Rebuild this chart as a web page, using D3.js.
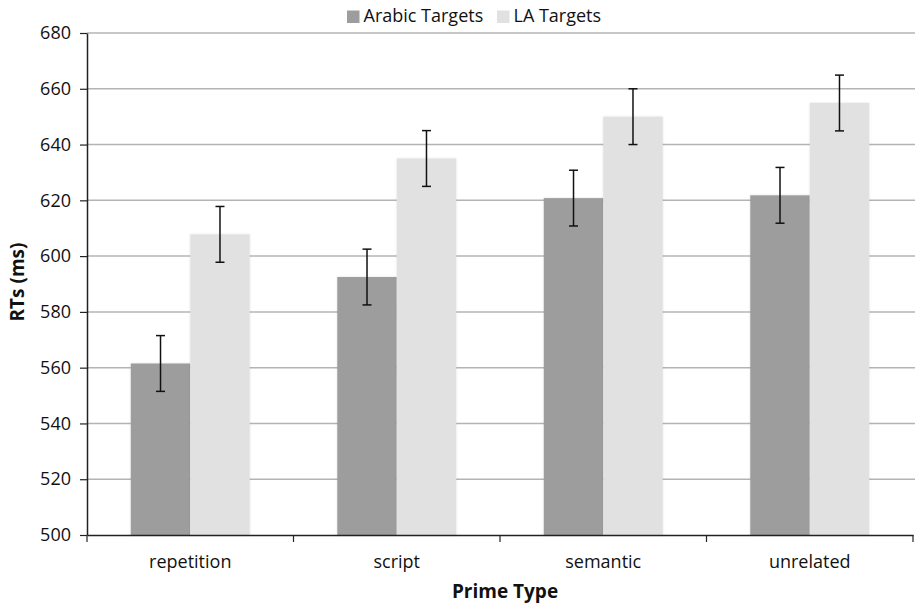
<!DOCTYPE html>
<html>
<head>
<meta charset="utf-8">
<script src="https://cdn.jsdelivr.net/npm/d3@7"></script>
<style>
  html, body { margin: 0; padding: 0; background: #fff; }
  svg { display: block; font-family: "Open Sans", sans-serif; }
</style>
</head>
<body>
<svg id="chart" width="915" height="604"></svg>
<script>
const categories = ["repetition", "script", "semantic", "unrelated"];
const seriesNames = ["Arabic Targets", "LA Targets"];
const arabicValues = [561.5, 592.5, 620.8, 621.8];
const laValues = [607.8, 635, 650, 654.9];
const arabicErrors = [10, 10, 10, 10];
const laErrors = [10, 10, 10, 10];
const yTicks = [500, 520, 540, 560, 580, 600, 620, 640, 660, 680];
const colors = ["#9d9d9d", "#e1e1e1"];

(function () {
const svg = d3.select("#chart");
const mLeft = 87, mRight = 913, mTop = 33, mBottom = 535;

const x = d3.scaleBand().domain(categories).range([mLeft, mRight]).paddingInner(0).paddingOuter(0);
const y = d3.scaleLinear().domain([500, 680]).range([mBottom, mTop]);
const barW = x.bandwidth() * 0.288;

// defs: soft glow around bars
const defs = svg.append("defs");
const f = defs.append("filter").attr("id", "soft").attr("x", "-10%").attr("y", "-10%").attr("width", "120%").attr("height", "120%");
f.append("feGaussianBlur").attr("in", "SourceAlpha").attr("stdDeviation", 1.2).attr("result", "b");
f.append("feFlood").attr("flood-color", "#000").attr("flood-opacity", 0.12);
f.append("feComposite").attr("in2", "b").attr("operator", "in").attr("result", "s");
const fm = f.append("feMerge");
fm.append("feMergeNode").attr("in", "s");
fm.append("feMergeNode").attr("in", "SourceGraphic");

// gridlines
svg.append("g").selectAll("line").data(yTicks.filter(d => d !== 500)).join("line")
  .attr("x1", mLeft).attr("x2", 915)
  .attr("y1", d => y(d)).attr("y2", d => y(d))
  .attr("stroke", "#b4b4b4").attr("stroke-width", 1.5);

// bars
const data = [];
categories.forEach((c, i) => {
  data.push({cat: c, s: 0, v: arabicValues[i], e: arabicErrors[i]});
  data.push({cat: c, s: 1, v: laValues[i], e: laErrors[i]});
});
const cx = d => x(d.cat) + x.bandwidth() / 2 + (d.s === 0 ? -barW : 0);

svg.append("g").selectAll("rect").data(data).join("rect")
  .attr("x", d => cx(d))
  .attr("y", d => y(d.v))
  .attr("width", barW)
  .attr("height", d => mBottom - y(d.v))
  .attr("fill", d => colors[d.s])
  .attr("filter", "url(#soft)");

// error bars
const eg = svg.append("g").attr("stroke", "#111").attr("stroke-width", 1.5);
data.forEach(d => {
  const mx = cx(d) + barW / 2;
  eg.append("line").attr("x1", mx).attr("x2", mx).attr("y1", y(d.v + d.e)).attr("y2", y(d.v - d.e));
  eg.append("line").attr("x1", mx - 4.5).attr("x2", mx + 4.5).attr("y1", y(d.v + d.e)).attr("y2", y(d.v + d.e));
  eg.append("line").attr("x1", mx - 4.5).attr("x2", mx + 4.5).attr("y1", y(d.v - d.e)).attr("y2", y(d.v - d.e));
});

// y axis
const yAxis = svg.append("g").attr("transform", `translate(${mLeft},0)`)
  .call(d3.axisLeft(y).tickValues(yTicks).tickSize(7).tickPadding(9).tickSizeOuter(0));
yAxis.select(".domain").attr("stroke", "#222").attr("stroke-width", 1.5);
yAxis.selectAll(".tick line").attr("stroke", "#222").attr("stroke-width", 1.2);
yAxis.selectAll("text").attr("font-size", 18).attr("fill", "#111").attr("font-family", "Open Sans, sans-serif");

// x axis
const xAxis = svg.append("g").attr("transform", `translate(0,${mBottom})`)
  .call(d3.axisBottom(x).tickSize(0).tickPadding(20).tickSizeOuter(0));
xAxis.select(".domain").attr("stroke", "#222").attr("stroke-width", 1.5);
xAxis.selectAll("text").attr("font-size", 18).attr("fill", "#111").attr("font-family", "Open Sans, sans-serif");
// boundary ticks between categories
const bounds = categories.map(c => x(c)).concat([mRight]);
svg.append("g").selectAll("line").data(bounds).join("line")
  .attr("x1", d => d).attr("x2", d => d)
  .attr("y1", mBottom).attr("y2", mBottom + 7)
  .attr("stroke", "#222").attr("stroke-width", 1.2);

// axis titles
svg.append("text").attr("x", 505).attr("y", 598).attr("text-anchor", "middle")
  .attr("font-size", 19).attr("font-weight", "bold").attr("fill", "#111").text("Prime Type");
svg.append("text").attr("transform", "translate(24,282) rotate(-90)").attr("text-anchor", "middle")
  .attr("font-size", 19).attr("font-weight", "bold").attr("fill", "#111").text("RTs (ms)");

// legend
const legendX = [347, 497];
seriesNames.forEach((n, i) => {
  svg.append("rect").attr("x", legendX[i]).attr("y", 10.5).attr("width", 12.5).attr("height", 12.5).attr("fill", colors[i]);
  svg.append("text").attr("x", legendX[i] + 16.5).attr("y", 22).attr("font-size", 18).attr("fill", "#111").text(n);
});
})();
</script>
</body>
</html>
